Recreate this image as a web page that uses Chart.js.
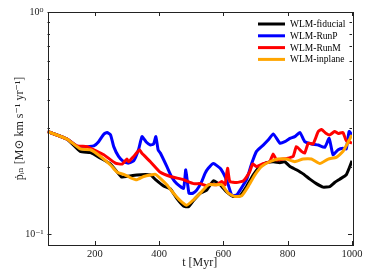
<!DOCTYPE html>
<html><head><meta charset="utf-8">
<script src="https://cdn.jsdelivr.net/npm/chart.js@4/dist/chart.umd.min.js"></script>
<style>html,body{margin:0;padding:0;background:#fff}#wrap{width:374px;height:280px}</style>
</head><body><div id="wrap"><canvas id="c" width="374" height="280"></canvas></div>
<script>
const seriesLabels = ['WLM-fiducial', 'WLM-RunP', 'WLM-RunM', 'WLM-inplane'];
const seriesColors = ['#000000', '#0000ff', '#ff0000', '#ffa500'];

const tFid = [53,114,155,187,218,249,283,300,331,373,389,414,435,455,476,491,507,528,548,569,590,610,631,652,672,693,714,734,755,776,791,807,827,848,869,889,910,931,946,962,982,1000];
const pFid = [0.29,0.268,0.236,0.233,0.22,0.207,0.181,0.182,0.185,0.185,0.176,0.165,0.16,0.145,0.134,0.133,0.142,0.153,0.158,0.174,0.167,0.155,0.148,0.149,0.164,0.185,0.202,0.21,0.212,0.21,0.212,0.202,0.195,0.187,0.177,0.169,0.163,0.164,0.171,0.177,0.185,0.214];

const tRunP = [53,114,155,176,197,212,228,238,249,259,274,290,305,321,336,347,360,373,383,390,397,404,424,440,455,476,483,493,505,517,533,543,553,569,590,605,615,626,641,652,672,688,703,724,740,755,776,791,807,822,838,853,874,895,915,929,941,957,972,982,991,1000];
const pRunP = [0.29,0.268,0.244,0.248,0.25,0.261,0.282,0.287,0.28,0.248,0.224,0.212,0.209,0.214,0.24,0.275,0.26,0.252,0.255,0.275,0.24,0.232,0.202,0.18,0.169,0.161,0.195,0.153,0.153,0.158,0.173,0.188,0.198,0.208,0.198,0.182,0.167,0.15,0.15,0.158,0.176,0.208,0.236,0.252,0.266,0.283,0.257,0.261,0.27,0.275,0.287,0.261,0.255,0.252,0.246,0.27,0.228,0.24,0.244,0.242,0.29,0.28];

const tRunM = [53,114,145,176,197,228,264,285,300,305,321,339,346,373,404,435,476,507,528,548,559,579,595,605,613,620,641,662,681,691,703,724,744,755,765,786,801,817,827,843,853,864,879,895,905,920,931,946,957,972,982,1000];
const pRunM = [0.29,0.268,0.25,0.248,0.24,0.228,0.209,0.207,0.218,0.212,0.224,0.24,0.232,0.212,0.19,0.182,0.176,0.169,0.169,0.165,0.168,0.167,0.173,0.167,0.198,0.173,0.171,0.174,0.19,0.207,0.202,0.208,0.212,0.23,0.216,0.218,0.22,0.224,0.248,0.236,0.232,0.257,0.255,0.29,0.296,0.284,0.28,0.29,0.284,0.287,0.264,0.257];

const tInplane = [53,114,155,187,218,249,270,290,310,331,352,373,389,403,424,445,465,486,507,528,553,574,595,615,636,657,677,698,719,744,770,796,822,848,874,900,926,951,972,1000];
const pInplane = [0.29,0.268,0.242,0.24,0.224,0.205,0.19,0.186,0.18,0.176,0.182,0.185,0.186,0.179,0.167,0.153,0.142,0.135,0.143,0.153,0.167,0.167,0.167,0.153,0.148,0.149,0.164,0.185,0.202,0.212,0.218,0.218,0.212,0.218,0.218,0.208,0.218,0.222,0.236,0.28];

const xTickValues = [200, 400, 600, 800, 1000];
const xTickLabels = ['200', '400', '600', '800', '1000'];
const yMajorTicks = [0.1, 1];
const yMinorTicks = [0.2, 0.3, 0.4, 0.5, 0.6, 0.7, 0.8, 0.9];
const yTickLabels = ['10\u207B\u00B9', '10\u2070'];

const xs = [tFid, tRunP, tRunM, tInplane];
const ys = [pFid, pRunP, pRunM, pInplane];
const drawOrder = [3, 2, 1, 0];

const datasets = seriesLabels.map((lab, i) => ({
  label: lab,
  data: xs[i].map((t, j) => ({x: t, y: ys[i][j]})),
  borderColor: seriesColors[i],
  backgroundColor: seriesColors[i],
  borderWidth: 3,
  pointRadius: 0,
  tension: 0.15,
  fill: false,
  order: drawOrder[i]
}));

const SERIF = "'Liberation Serif', 'DejaVu Serif', serif";

const framePlugin = {
  id: 'frame',
  afterDraw(chart) {
    const ctx = chart.ctx;
    const a = chart.chartArea;
    const sx = chart.scales.x, sy = chart.scales.y;
    ctx.save();
    ctx.strokeStyle = '#222';
    ctx.lineWidth = 1;
    ctx.strokeRect(Math.round(a.left) + 0.5, Math.round(a.top) + 0.5, Math.round(a.right - a.left), Math.round(a.bottom - a.top));
    ctx.beginPath();
    xTickValues.forEach(v => {
      const px = Math.round(sx.getPixelForValue(v)) + 0.5;
      ctx.moveTo(px, a.bottom); ctx.lineTo(px, a.bottom - 4);
      ctx.moveTo(px, a.top); ctx.lineTo(px, a.top + 4);
    });
    yMajorTicks.forEach(v => {
      const py = Math.round(sy.getPixelForValue(v)) + 0.5;
      ctx.moveTo(a.left, py); ctx.lineTo(a.left + 4, py);
      ctx.moveTo(a.right, py); ctx.lineTo(a.right - 4, py);
    });
    yMinorTicks.forEach(v => {
      const py = Math.round(sy.getPixelForValue(v)) + 0.5;
      ctx.moveTo(a.left, py); ctx.lineTo(a.left + 2.5, py);
      ctx.moveTo(a.right, py); ctx.lineTo(a.right - 2.5, py);
    });
    ctx.stroke();
    // legend
    ctx.font = '9.5px ' + SERIF;
    ctx.textBaseline = 'middle';
    ctx.textAlign = 'left';
    seriesLabels.forEach((lab, i) => {
      const y = 24 + i * 11.8;
      ctx.strokeStyle = seriesColors[i];
      ctx.lineWidth = 3;
      ctx.beginPath();
      ctx.moveTo(258, y); ctx.lineTo(285, y);
      ctx.stroke();
      ctx.fillStyle = '#000';
      ctx.fillText(lab, 290, y + 0.5);
    });
    ctx.restore();
  }
};

new Chart(document.getElementById('c'), {
  type: 'line',
  data: {datasets},
  options: {
    responsive: false,
    animation: false,
    devicePixelRatio: 1,
    layout: {padding: {left: 0, right: 22, top: 12, bottom: 0}},
    plugins: {legend: {display: false}, tooltip: {enabled: false}},
    scales: {
      x: {
        type: 'linear', min: 53, max: 1000,
        afterBuildTicks: s => { s.ticks = xTickValues.map(v => ({value: v})); },
        afterFit: s => { s.height = 35; },
        grid: {display: false, drawTicks: false},
        border: {display: false},
        ticks: {padding: 3, color: '#222', font: {family: SERIF, size: 10.5}, maxRotation: 0, autoSkip: false,
          callback: v => xTickLabels[xTickValues.indexOf(v)] ?? ''},
        title: {display: true, text: 't [Myr]', color: '#222', font: {family: SERIF, size: 12}, padding: {top: 0, bottom: 10}}
      },
      y: {
        type: 'logarithmic', min: 0.0895, max: 1,
        afterBuildTicks: s => { s.ticks = yMajorTicks.map(v => ({value: v})); },
        afterFit: s => { s.width = 47.5; },
        grid: {display: false, drawTicks: false},
        border: {display: false},
        ticks: {padding: 4, color: '#222', font: {family: SERIF, size: 10},
          callback: v => yTickLabels[yMajorTicks.findIndex(m => Math.abs(m - v) < 1e-9)] ?? ''},
        title: {display: true, text: '\u1E57\u1D62\u2099 [M\u2299 km s\u207B\u00B9 yr\u207B\u00B9]', color: '#222', font: {family: SERIF, size: 12}, padding: {top: 13, bottom: 0}}
      }
    }
  },
  plugins: [framePlugin]
});
</script>
</body></html>
